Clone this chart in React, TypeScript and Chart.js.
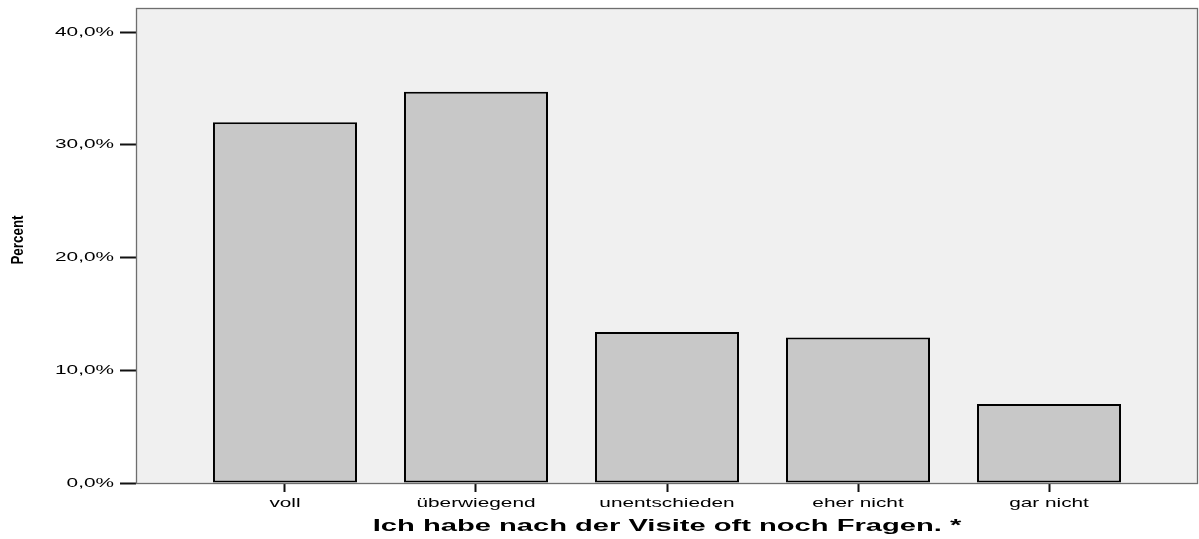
import React, { useEffect, useRef } from 'react';
import { Chart, registerables } from 'chart.js';

Chart.register(...registerables);

const categories = ['voll', 'überwiegend', 'unentschieden', 'eher nicht', 'gar nicht'];
const percentValues = [32.0, 34.7, 13.4, 12.9, 7.0];
const yTickValues = [0, 10, 20, 30, 40];
const yMax = 42.13;
const xMin = -0.78;
const xMax = 4.78;
const xAxisTitle = 'Ich habe nach der Visite oft noch Fragen. *';
const yAxisTitle = 'Percent';

const FONT = '"Liberation Sans", Arial, Helvetica, sans-serif';
const STRETCH = 1.6;

function fmtPercent(v: number): string {
  return v.toFixed(1).replace('.', ',') + '%';
}

const spssPlugin = {
  id: 'spssLook',
  beforeDraw(chart: any) {
    const { ctx, chartArea: a } = chart;
    ctx.save();
    ctx.fillStyle = '#f0f0f0';
    ctx.fillRect(a.left, a.top, a.right - a.left, a.bottom - a.top);
    ctx.restore();
  },
  beforeDatasetsDraw(chart: any) {
    const { ctx, chartArea: a } = chart;
    ctx.save();
    ctx.strokeStyle = '#6e6e6e';
    ctx.lineWidth = 1.3;
    ctx.strokeRect(a.left + 0.5, a.top + 0.5, a.right - a.left - 1, a.bottom - a.top);
    ctx.restore();
  },
  afterDraw(chart: any) {
    const { ctx, chartArea: a } = chart;
    const xs = chart.scales.x;
    const ys = chart.scales.y;
    ctx.save();
    ctx.fillStyle = '#000';

    // y tick labels
    ctx.font = `13px ${FONT}`;
    ctx.textAlign = 'right';
    ctx.textBaseline = 'middle';
    yTickValues.forEach((v) => {
      const py = ys.getPixelForValue(v);
      ctx.save();
      ctx.translate(114, py);
      ctx.scale(STRETCH, 1);
      ctx.fillText(fmtPercent(v), 0, 0);
      ctx.restore();
    });

    // x tick labels
    ctx.textAlign = 'center';
    ctx.textBaseline = 'alphabetic';
    categories.forEach((c, i) => {
      const px = xs.getPixelForValue(i);
      ctx.save();
      ctx.translate(px, a.bottom + 24);
      ctx.scale(STRETCH, 1);
      ctx.fillText(c, 0, 0);
      ctx.restore();
    });

    // x title
    ctx.font = `bold 16px ${FONT}`;
    ctx.save();
    ctx.translate((a.left + a.right) / 2, 531);
    ctx.scale(1.82, 1);
    ctx.fillText(xAxisTitle, 0, 0);
    ctx.restore();

    // y title
    ctx.font = `bold 13.4px ${FONT}`;
    ctx.textBaseline = 'middle';
    ctx.save();
    ctx.translate(19, 240);
    ctx.scale(1.2, 1);
    ctx.rotate(-Math.PI / 2);
    ctx.fillText(yAxisTitle, 0, 0);
    ctx.restore();

    ctx.restore();
  },
};

export default function App() {
  const canvasRef = useRef<HTMLCanvasElement | null>(null);

  useEffect(() => {
    if (!canvasRef.current) return;
    const chart = new Chart(canvasRef.current, {
      type: 'bar',
      data: {
        datasets: [
          {
            label: 'Percent',
            data: percentValues.map((v, i) => ({ x: i, y: v })),
            backgroundColor: '#c8c8c8',
            borderColor: '#000000',
            borderWidth: 2,
            borderSkipped: false,
            categoryPercentage: 1,
            barPercentage: 0.754,
          },
        ],
      },
      options: {
        responsive: false,
        animation: false,
        events: [],
        layout: { padding: { top: 8, right: 1, left: 0, bottom: 0 } },
        plugins: {
          legend: { display: false },
          tooltip: { enabled: false },
          title: { display: false },
        },
        scales: {
          x: {
            type: 'linear',
            min: xMin,
            max: xMax,
            offset: false,
            afterBuildTicks: (scale: any) => {
              scale.ticks = categories.map((_, i) => ({ value: i }));
            },
            afterFit: (scale: any) => {
              scale.height = 56;
            },
            ticks: { display: false },
            grid: {
              offset: false,
              drawOnChartArea: false,
              drawTicks: true,
              tickLength: 9,
              tickWidth: 2,
              tickColor: '#111',
              color: '#111',
            },
            border: { display: false },
            title: { display: false },
          },
          y: {
            type: 'linear',
            min: 0,
            max: yMax,
            afterBuildTicks: (scale: any) => {
              scale.ticks = yTickValues.map((v) => ({ value: v }));
            },
            afterFit: (scale: any) => {
              scale.width = 136;
            },
            ticks: { display: false },
            grid: {
              drawOnChartArea: false,
              drawTicks: true,
              tickLength: 16,
              tickWidth: 2,
              tickColor: '#111',
              color: '#111',
            },
            border: { display: false },
            title: { display: false },
          },
        },
      },
      plugins: [spssPlugin],
    } as any);
    return () => chart.destroy();
  }, []);

  return (
    <div style={{ position: 'absolute', left: 0, top: 0, width: 1199, height: 539, background: '#fff' }}>
      <canvas ref={canvasRef} width={1199} height={539} style={{ display: 'block' }} />
    </div>
  );
}
